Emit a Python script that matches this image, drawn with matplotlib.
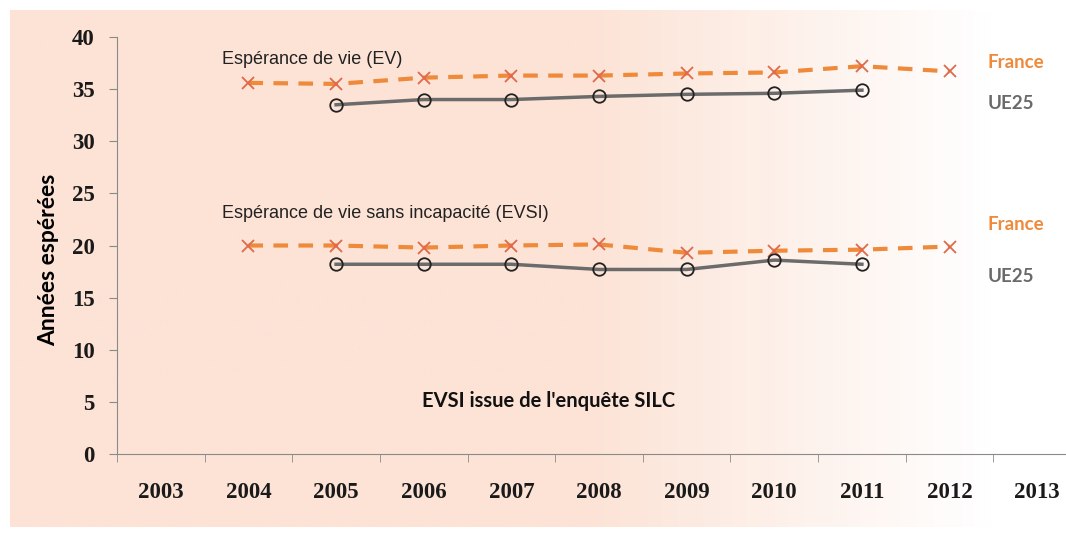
import numpy as np
import matplotlib.pyplot as plt
from matplotlib.colors import LinearSegmentedColormap

# Data
years = ['2003', '2004', '2005', '2006', '2007', '2008', '2009', '2010', '2011', '2012', '2013']
france_years = [1, 2, 3, 4, 5, 6, 7, 8, 9]        # 2004..2012
ue_years = [2, 3, 4, 5, 6, 7, 8]                  # 2005..2011
france_ev = [35.6, 35.5, 36.1, 36.3, 36.3, 36.5, 36.6, 37.2, 36.7]
ue25_ev = [33.5, 34.0, 34.0, 34.3, 34.5, 34.6, 34.9]
france_evsi = [20.0, 20.0, 19.8, 20.0, 20.1, 19.3, 19.5, 19.6, 19.9]
ue25_evsi = [18.2, 18.2, 18.2, 17.7, 17.7, 18.6, 18.2]

orange = '#EE8A3A'
cross = '#E0694A'
grey = '#6B6B6B'

fig = plt.figure(figsize=(10.66, 5.37), dpi=100)

# gradient background (peach on the left fading to white on the right)
bg = fig.add_axes([10 / 1066, 10 / 537, 1 - 10 / 1066, 1 - 20 / 537])
bg.set_axis_off()
cmap = LinearSegmentedColormap.from_list('bg', [(0, '#FCE3D6'), (0.55, '#FCE3D6'),
                                                (0.93, '#FFFFFF'), (1, '#FFFFFF')])
bg.imshow(np.linspace(0, 1, 400)[None, :], aspect='auto', cmap=cmap,
          extent=[0, 1, 0, 1])

ax = fig.add_axes([117 / 1066, 83 / 537, 964 / 1066, 417 / 537])
ax.patch.set_alpha(0)

ax.plot(france_years, france_ev, color=orange, lw=3, ls=(0, (3.5, 2.5)),
        marker='x', ms=9, mew=1.3, mec=cross)
ax.plot(ue_years, ue25_ev, color=grey, lw=2.5, marker='o', ms=9,
        mfc='none', mec='#222222', mew=1.3)
ax.plot(france_years, france_evsi, color=orange, lw=3, ls=(0, (3.5, 2.5)),
        marker='x', ms=9, mew=1.3, mec=cross)
ax.plot(ue_years, ue25_evsi, color=grey, lw=2.5, marker='o', ms=9,
        mfc='none', mec='#222222', mew=1.3)

ax.set_xlim(-0.5, 10.5)
ax.set_ylim(0, 40)
ax.set_yticks(range(0, 41, 5))
ax.set_xticks(range(len(years)))
ax.set_xticklabels(years)
ax.set_xticks(np.arange(-0.5, 11, 1), minor=True)

for s in ['top', 'right']:
    ax.spines[s].set_visible(False)
for s in ['left', 'bottom']:
    ax.spines[s].set_color('#8A8A8A')
ax.tick_params(axis='x', which='major', length=0, pad=20)
ax.tick_params(axis='x', which='minor', length=6, color='#8A8A8A')
ax.tick_params(axis='y', length=6, color='#8A8A8A', pad=10)
for lab in ax.get_xticklabels() + ax.get_yticklabels():
    lab.set_fontfamily('Liberation Serif')
    lab.set_fontweight('bold')
    lab.set_fontsize(16.5)
    lab.set_color('#1A1A1A')

ax.set_ylabel('Années espérées', fontsize=16.5, fontweight='bold', family='Lato')
ax.yaxis.set_label_coords(-0.06, 0.465)

txt = dict(fontsize=13, color='#222222', family='Liberation Sans')
ax.text(0.7, 37.4, 'Espérance de vie (EV)', **txt)
ax.text(0.7, 22.6, 'Espérance de vie sans incapacité (EVSI)', **txt)
ax.text(4.42, 4.5, "EVSI issue de l'enquête SILC", fontsize=14.5, family='Lato',
        fontweight='bold', color='#111111', ha='center')
lab = dict(fontsize=13.5, fontweight='bold', ha='left', va='center', family='Lato')
ax.text(9.43, 37.6, 'France', color=orange, **lab)
ax.text(9.43, 33.6, 'UE25', color='#6A6A6A', **lab)
ax.text(9.43, 22.0, 'France', color=orange, **lab)
ax.text(9.43, 17.0, 'UE25', color='#6A6A6A', **lab)

fig.savefig('out.png', dpi=100)
